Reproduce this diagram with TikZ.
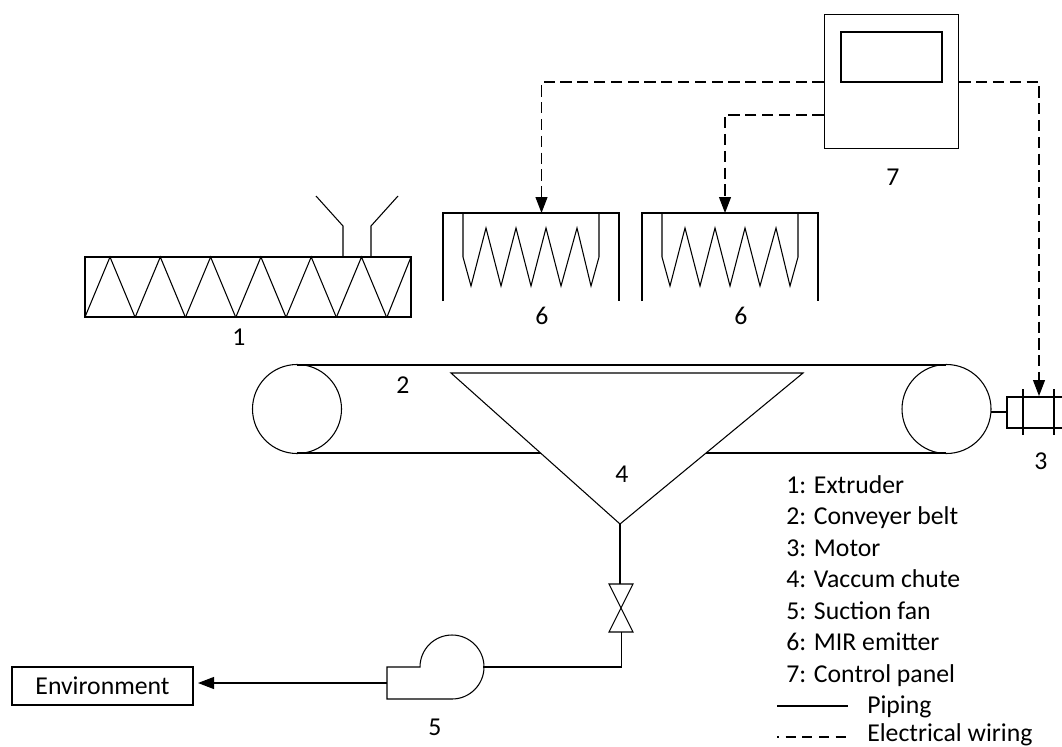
\documentclass[tikz,border=0pt]{standalone}
\usepackage{fontspec}
\setmainfont{Carlito}
\usepackage{xcolor}
\usetikzlibrary{arrows.meta,positioning,calc}

\begin{document}
\begin{tikzpicture}[
    x=0.75pt,
    y=-0.75pt,
    >={Stealth[length=12pt,width=9pt,inset=0pt]},
    inkline/.style={line width=0.8pt, black},
    wireline/.style={->, line width=0.8pt, black, dash pattern=on 8.4pt off 4.2pt},
    pipeline/.style={line width=0.8pt, black},
    flow/.style={->, line width=0.8pt, black},
    tag/.style={font=\fontsize{19.3}{22}\selectfont, inner sep=0pt},
    legend/.style={tag, anchor=base west},
    panelbox/.style={draw=black, line width=0.8pt, inner sep=0pt, minimum width=101pt, minimum height=101pt},
    envbox/.style={tag, draw=black, line width=0.8pt, minimum width=135.75pt, minimum height=28.5pt},
]
\newcommand{\emitter}[2]{%
  \begin{scope}[shift={(#1,213)}]
    \draw[inkline] (0,88) -- (0,0) -- (176,0) -- (176,88);
    \draw[inkline] (20,0) -- (20,44) -- (28,73) -- (43,15) -- (58,73) -- (73,15)
      -- (88,73) -- (103,15) -- (118,73) -- (134,15) -- (148,73) -- (156,44) -- (156,0);
    \node[tag] (#2) at (99,103) {6};
  \end{scope}
}
\useasboundingbox (0,0) rectangle (1062,746);

% extruder
\draw[inkline] (85,257) rectangle (411,317);
\foreach \i in {0,...,5}{
  \draw[inkline] ({85+\i*50.3},317) -- ({110+\i*50.3},257) -- ({135+\i*50.3},317);
}
\draw[inkline] (387,317) -- (411,257);
\draw[inkline] (343,257) -- (343,226) -- (316,196);
\draw[inkline] (371,257) -- (371,226) -- (398,196);
\node[tag] (extruderno) at (239,337) {1};

% emitters
\emitter{443}{emitterno}
\emitter{642}{emitternob}

% belt, chute
\draw[inkline] (297,365) -- (946,365);
\draw[inkline] (297,453) -- (946,453);
\draw[inkline] (297,409) circle[radius=44.5];
\draw[inkline] (946.5,409) circle[radius=44.5];
\draw[inkline, fill=white] (451,373) -- (803,373) -- (620,524) -- cycle;
\node[tag] (beltno) at (403,385) {2};
\node[tag] (chuteno) at (622,474) {4};

% motor
\draw[inkline] (991,412) -- (1007,412);
\draw[inkline] (1075,397) -- (1007,397) -- (1007,428) -- (1075,428);
\draw[inkline] (1023,389) -- (1023,435);
\draw[inkline] (1054,389) -- (1054,435);
\node[tag] (motorno) at (1041,461) {3};

% control panel
\node[panelbox] (panel) at (891.5,81.5) {};
\draw[inkline] (841,32) rectangle (942,82);
\node[tag] (panelno) at (893,177) {7};
\coordinate (wirea) at (541.5,213);
\coordinate (wireb) at (725,213);
\coordinate (wirec) at (1039,396);
\draw[wireline] (panel.west |- 0,82) -| (wirea);
\draw[wireline] (panel.west |- 0,115) -| (wireb);
\draw[wireline] (panel.east |- 0,82) -| (wirec);

% piping
\draw[pipeline] (620,524) -- (620,584);
\draw[inkline] (609,584) -- (633,584) -- (609,632) -- (633,632) -- cycle;
\draw[pipeline] (621.5,632) -- (621.5,667) -- (483,667);

% fan
\draw[inkline] (420,667) arc[start angle=180, end angle=450, radius=32] -- (387,699) -- (387,667) -- cycle;
\node[tag] (fanno) at (435,727) {5};
\coordinate (fanout) at (387,683);
\node[envbox] (env) at (102.5,686) {Environment};
\draw[flow] (fanout) -- (198,683);

% key
\node[legend] (keya) at (786,493) {1: Extruder};
\node[legend] (keyb) at (786,524) {2: Conveyer belt};
\node[legend] (keyc) at (786,556) {3: Motor};
\node[legend] (keyd) at (786,587) {4: Vaccum chute};
\node[legend] (keye) at (786,619) {5: Suction fan};
\node[legend] (keyf) at (786,650) {6: MIR emitter};
\node[legend] (keyg) at (786,682) {7: Control panel};
\node[legend] (keyh) at (867,713) {Piping};
\node[legend] (keyi) at (867,741) {Electrical wiring};
\draw[pipeline] (777,706) -- (848,706);
\draw[pipeline, dash pattern=on 7.5pt off 5pt, dash phase=6pt] (777,737) -- (848,737);
\end{tikzpicture}
\end{document}
